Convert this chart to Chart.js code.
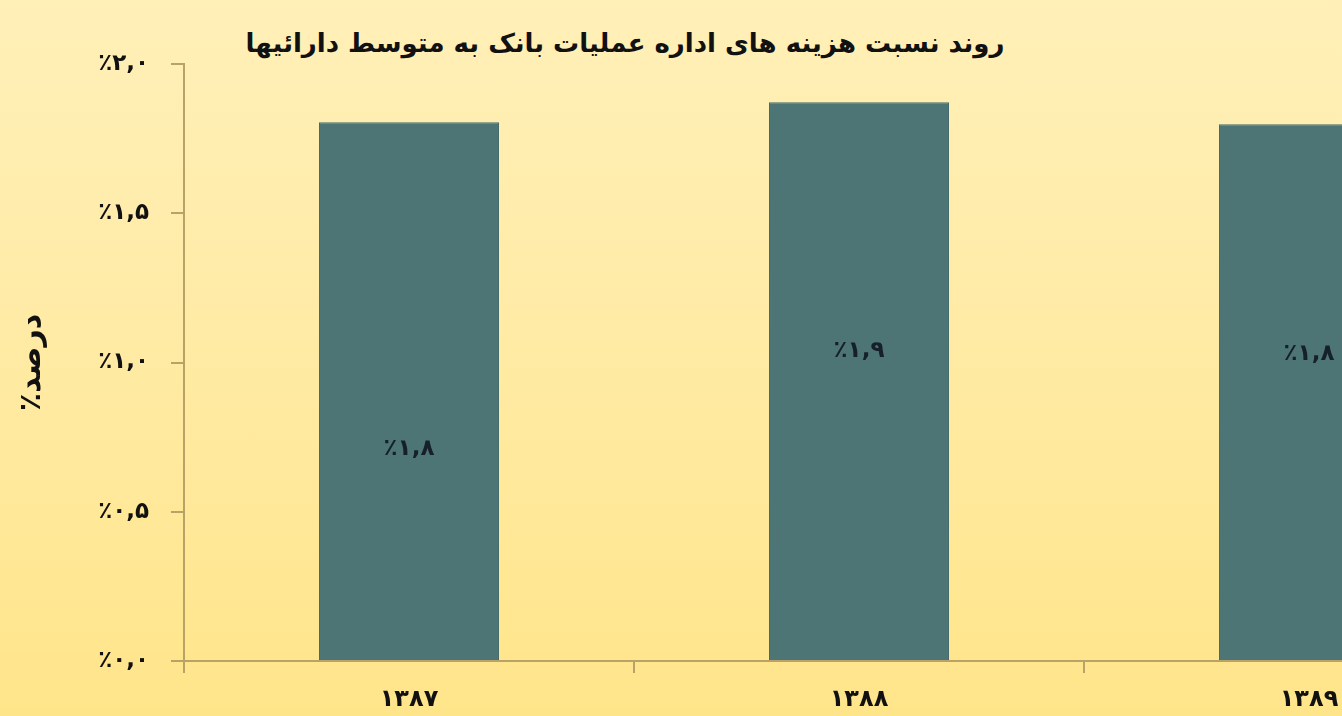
<!DOCTYPE html>
<html lang="fa">
<head>
<meta charset="utf-8">
<script src="https://cdn.jsdelivr.net/npm/chart.js@4.4.1/dist/chart.umd.min.js"></script>
<style>
  html, body { margin: 0; padding: 0; }
  body {
    width: 1342px; height: 716px; overflow: hidden; position: relative;
    background: linear-gradient(to bottom, #fff0b8 0%, #ffeba6 45%, #ffe58a 100%);
    font-family: "DejaVu Sans", sans-serif;
  }
  #title {
    position: absolute; top: 28px; left: 625px; transform: translateX(-50%);
    white-space: nowrap; direction: rtl;
    font-weight: bold; font-size: 26px; color: #111;
  }
  #wrap { position: absolute; left: 0; top: 0; width: 1540px; height: 716px; }
</style>
</head>
<body>
<div id="title">روند نسبت هزینه های اداره عملیات بانک به متوسط دارائیها</div>
<div id="wrap"><canvas id="chart"></canvas></div>
<script>
// داده‌ها
const years = ["۱۳۸۷", "۱۳۸۸", "۱۳۸۹"];
const ratios = [1.805, 1.872, 1.798];
const ratioLabels = ["٪۱,۸", "٪۱,۹", "٪۱,۸"];
const labelAt = [0.71, 1.04, 1.03];   // جای برچسب روی ستون (بر حسب مقدار)
const yTicks = ["٪۰,۰", "٪۰,۵", "٪۱,۰", "٪۱,۵", "٪۲,۰"];

const axisColor = "#b9a265";

// برچسب مقدار داخل ستون‌ها
const barLabels = {
  id: "barLabels",
  afterDatasetsDraw(chart) {
    const ctx = chart.ctx;
    const meta = chart.getDatasetMeta(0);
    const y = chart.scales.y;
    ctx.save();
    ctx.font = "bold 23px 'DejaVu Sans'";
    ctx.fillStyle = "#15202a";
    ctx.textAlign = "center";
    ctx.textBaseline = "middle";
    meta.data.forEach((bar, i) => {
      ctx.fillText(ratioLabels[i], bar.x, y.getPixelForValue(labelAt[i]));
    });
    ctx.restore();
  }
};

new Chart(document.getElementById("chart"), {
  type: "bar",
  data: {
    labels: years,
    datasets: [{
      data: ratios,
      backgroundColor: "#4e7576",
      borderColor: "#466b6c",
      borderWidth: 1,
      barPercentage: 0.4,
      categoryPercentage: 1.0
    }]
  },
  options: {
    responsive: true,
    maintainAspectRatio: false,
    animation: false,
    layout: { padding: { top: 64, right: 6, left: 0, bottom: 0 } },
    plugins: {
      legend: { display: false },
      tooltip: { enabled: false }
    },
    scales: {
      x: {
        offset: true,
        grid: {
          offset: true,
          drawOnChartArea: false,
          drawTicks: true,
          tickLength: 12,
          color: axisColor,
          lineWidth: 2
        },
        border: { color: axisColor, width: 2 },
        ticks: {
          color: "#111",
          padding: 12,
          font: { family: "DejaVu Sans", size: 24, weight: "bold" }
        },
        afterFit(scale) { scale.height = 55; }
      },
      y: {
        min: 0,
        max: 2,
        grid: {
          drawOnChartArea: false,
          drawTicks: true,
          tickLength: 13,
          color: axisColor,
          lineWidth: 2
        },
        border: { color: axisColor, width: 2 },
        ticks: {
          stepSize: 0.5,
          color: "#111",
          padding: 22,
          font: { family: "DejaVu Sans", size: 23, weight: "bold" },
          callback: (v, i) => yTicks[i]
        },
        title: {
          display: true,
          text: "٪درصد",
          color: "#111",
          font: { family: "DejaVu Sans", size: 30, weight: "bold" },
          padding: { top: 14, bottom: 0 }
        },
        afterFit(scale) { scale.width = 184; }
      }
    }
  },
  plugins: [barLabels]
});
</script>
</body>
</html>
